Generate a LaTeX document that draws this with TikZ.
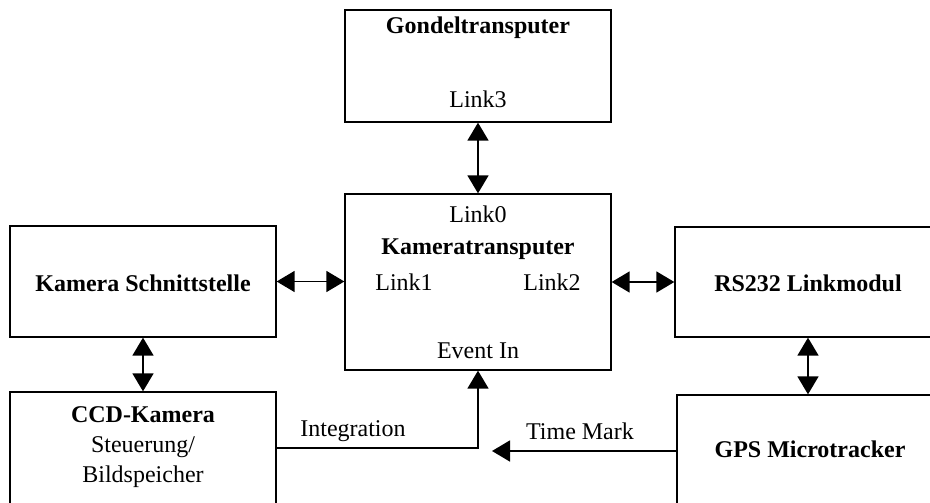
\documentclass[tikz,border=0pt]{standalone}
\usepackage{fontspec}
\setmainfont{Liberation Serif}
\usetikzlibrary{arrows.meta}
\begin{document}
\begin{tikzpicture}[x=1pt,y=-1pt,
  box/.style={draw=black, line width=1.3pt, rectangle, inner sep=0pt},
  txt/.style={anchor=base, inner sep=0pt, font=\fontsize{24}{28}\selectfont},
  btxt/.style={txt, font=\fontsize{24}{28}\selectfont\bfseries},
  conn/.style={line width=1.6pt, {Triangle[length=18pt,width=21pt]}-{Triangle[length=18pt,width=21pt]}},
  oneway/.style={line width=1.6pt, -{Triangle[length=18pt,width=21pt]}}]
\useasboundingbox (0,0) rectangle (930,503);
\clip (0,0) rectangle (930,503);
% boxes
\node[box, minimum width=266pt, minimum height=112pt] (gondel) at (478,66) {};
\node[box, minimum width=266pt, minimum height=176pt] (kamtr) at (478,282) {};
\node[box, minimum width=266pt, minimum height=111pt] (schnitt) at (143,281.5) {};
\node[box, minimum width=275pt, minimum height=110pt] (rs) at (812.5,282) {};
\node[box, minimum width=266pt, minimum height=138pt] (ccd) at (143,461) {};
\node[box, minimum width=273pt, minimum height=135pt] (gps) at (813.5,462.5) {};
% texts
\node[btxt] (tgondel) at (478,34) {Gondeltransputer};
\node[txt] (tlink3) at (478,107) {Link3};
\node[txt] (tlink0) at (478,222) {Link0};
\node[btxt] (tkamtr) at (478,254) {Kameratransputer};
\node[txt] (tlink1) at (404,290) {Link1};
\node[txt] (tlink2) at (552,290) {Link2};
\node[txt] (tevent) at (478,358) {Event In};
\node[btxt] (tschnitt) at (143,291) {Kamera Schnittstelle};
\node[btxt] (trs) at (808,291) {RS232 Linkmodul};
\node[btxt] (tccd) at (143,422) {CCD-Kamera};
\node[txt] (tsteu) at (143,452) {Steuerung/};
\node[txt] (tbild) at (143,482) {Bildspeicher};
\node[btxt] (tgps) at (810,457) {GPS Microtracker};
\node[txt] (tint) at (353,436) {Integration};
\node[txt] (ttime) at (580,439) {Time Mark};
% connectors
\draw[conn] (gondel) -- (kamtr);
\draw[conn] (schnitt.east) -- (schnitt.east -| kamtr.west);
\draw[conn] (kamtr.east) -- (kamtr.east -| rs.west);
\draw[conn] (schnitt) -- (ccd);
\coordinate (rsout) at ([xshift=-4.5pt]rs.south);
\draw[conn] (rsout) -- (rsout |- gps.north);
\coordinate (intstart) at ([yshift=13pt]ccd.east);
\draw[oneway] (intstart) -| (kamtr.south);
\coordinate (tmstart) at ([yshift=11.5pt]gps.west);
\coordinate (tmend) at (492,451);
\draw[oneway] (tmstart) -- (tmend);
\end{tikzpicture}
\end{document}
